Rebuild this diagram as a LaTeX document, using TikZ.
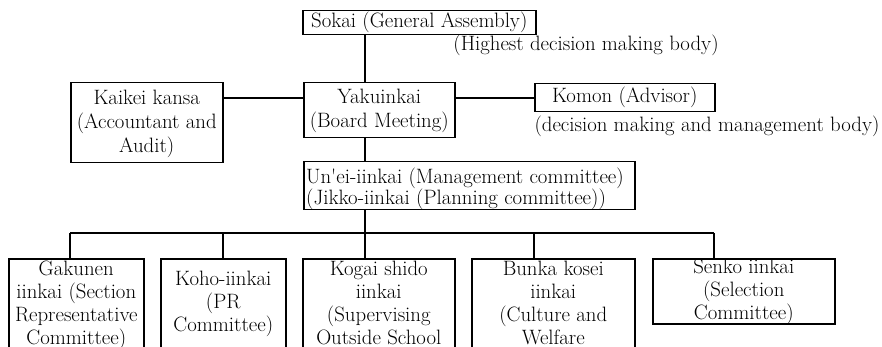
\documentclass[tikz,border=0pt]{standalone}
\begin{document}
\begin{tikzpicture}[x=1pt,y=-1pt,
  box/.style={draw, line width=1.5pt, inner sep=0pt, anchor=north west},
  conn/.style={line width=1.5pt},
  txt/.style={inner sep=0pt, align=center, font=\fontsize{20.8}{23.8}\selectfont},
  low/.style={txt, anchor=north, font=\fontsize{20.8}{22.8}\selectfont},
  note/.style={inner sep=0pt, font=\fontsize{20.8}{23.8}\selectfont}]
\useasboundingbox (0,0) rectangle (882,347);
\clip (0,0) rectangle (882,347);
% boxes
\node[box, minimum width=233pt, minimum height=24pt] (sokai) at (302,10) {};
\node[box, minimum width=152pt, minimum height=80pt] (kaikei) at (70,82) {};
\node[box, minimum width=151pt, minimum height=55pt] (yaku) at (303,82) {};
\node[box, minimum width=180pt, minimum height=28pt] (komon) at (534,83) {};
\node[box, minimum width=331pt, minimum height=48pt] (unei) at (303,161) {};
\node[box, minimum width=135pt, minimum height=120pt] (gak) at (8,258) {};
\node[box, minimum width=125pt, minimum height=120pt] (koho) at (160,258) {};
\node[box, minimum width=152pt, minimum height=120pt] (kogai) at (302,258) {};
\node[box, minimum width=163pt, minimum height=120pt] (bunka) at (471,258) {};
\node[box, minimum width=182pt, minimum height=65pt] (senko) at (652,258) {};
% texts
\node[txt] (tsokai) at (sokai.center) {Sokai (General Assembly)};
\node[note] (thigh) at (586,45) {(Highest decision making body)};
\node[txt] (tkaikei) at ([yshift=-1pt]kaikei.center) {Kaikei kansa\\(Accountant and\\Audit)};
\node[txt] (tyaku) at ([yshift=-1pt]yaku.center) {Yakuinkai\\(Board Meeting)};
\node[txt] (tkomon) at (komon.center) {Komon (Advisor)};
\node[note] (tdec) at (707,126) {(decision making and management body)};
\node[txt, align=left, anchor=west, font=\fontsize{20.8}{19.5}\selectfont] (tunei) at ([xshift=3pt,yshift=-3pt]unei.west) {Un\textquotesingle ei-iinkai (Management committee)\\(Jikko-iinkai (Planning committee))};
\node[low] (tgak) at ([yshift=-3pt]gak.north) {Gakunen\\iinkai (Section\\Representative\\Committee)};
\node[low] (tkoho) at ([yshift=-13pt]koho.north) {Koho-iinkai\\(PR\\Committee)};
\node[low] (tkogai) at ([yshift=-3pt]kogai.north) {Kogai shido\\iinkai\\(Supervising\\Outside School};
\node[low] (tbunka) at ([yshift=-3pt]bunka.north) {Bunka kosei\\iinkai\\(Culture and\\Welfare};
\node[low, anchor=center, font=\fontsize{20.8}{23}\selectfont] (tsenko) at ([yshift=-1pt]senko.center) {Senko iinkai\\(Selection\\Committee)};
% connectors
\coordinate (spine) at (365,0);
\coordinate (hline) at (0,98);
\coordinate (d1) at (70,233);
\coordinate (d2) at (223,233);
\coordinate (d3) at (365,233);
\coordinate (d4) at (534,233);
\coordinate (d5) at (714,233);
\draw[conn] (spine |- sokai.south) -- (spine |- yaku.north);
\draw[conn] (kaikei.east |- hline) -- (yaku.west |- hline);
\draw[conn] (yaku.east |- hline) -- (komon.west |- hline);
\draw[conn] (spine |- yaku.south) -- (spine |- unei.north);
\draw[conn] (spine |- unei.south) -- (d3);
\draw[conn] (d1) -- (d5);
\draw[conn] (d1) -- (d1 |- gak.north);
\draw[conn] (d2) -- (d2 |- koho.north);
\draw[conn] (d3) -- (d3 |- kogai.north);
\draw[conn] (d4) -- (d4 |- bunka.north);
\draw[conn] (d5) -- (d5 |- senko.north);
\end{tikzpicture}
\end{document}
